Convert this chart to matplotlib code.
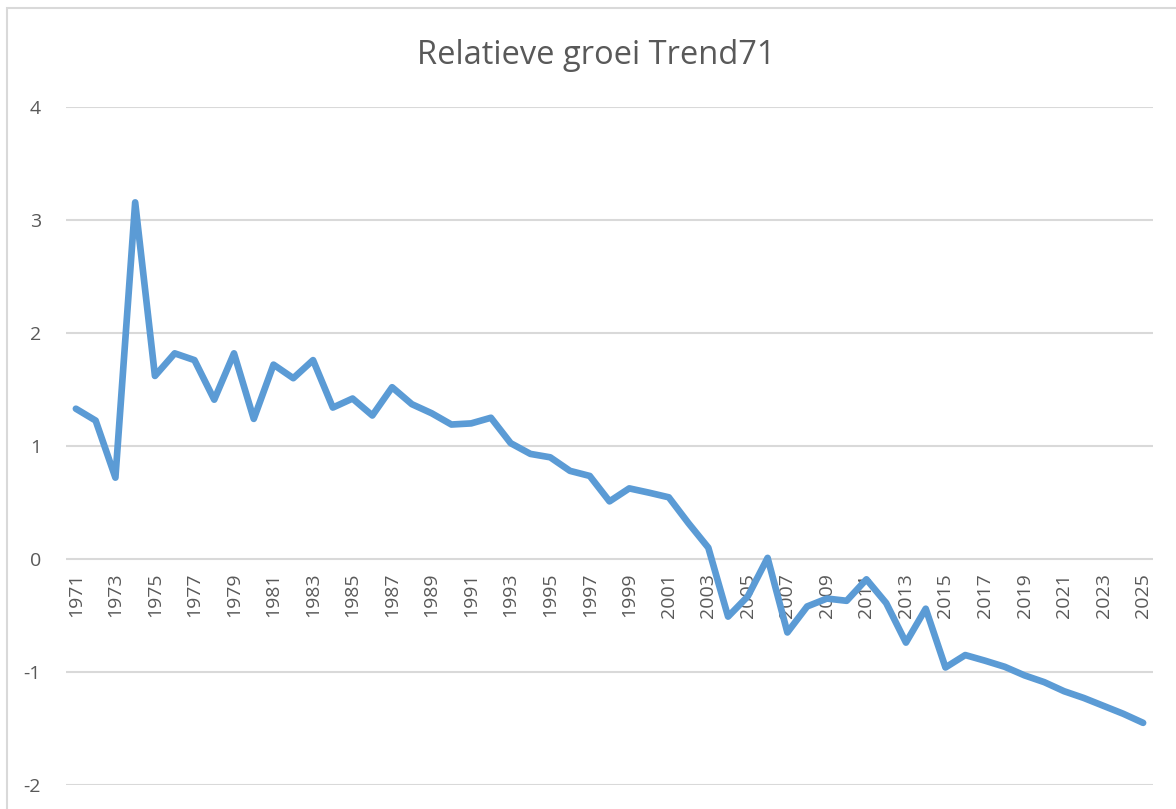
import matplotlib
matplotlib.use("Agg")
import matplotlib.pyplot as plt
from matplotlib.patches import Rectangle

years = list(range(1971, 2026))
values = [1.33, 1.225, 0.72, 3.156, 1.62, 1.82, 1.76, 1.41, 1.82, 1.24,
          1.72, 1.60, 1.76, 1.34, 1.42, 1.27, 1.52, 1.37, 1.29, 1.19,
          1.20, 1.25, 1.025, 0.93, 0.90, 0.78, 0.735, 0.51, 0.625, 0.587,
          0.546, 0.316, 0.10, -0.51, -0.33, 0.01, -0.65, -0.42, -0.35, -0.37,
          -0.18, -0.39, -0.74, -0.44, -0.96, -0.85, -0.90, -0.954, -1.03, -1.09,
          -1.17, -1.23, -1.30, -1.37, -1.45]
xtick_labels = [str(y) for y in range(1971, 2026, 2)]
yticks = [-2, -1, 0, 1, 2, 3, 4]
title = "Relatieve groei Trend71"

plt.rcParams['font.family'] = ['Open Sans', 'DejaVu Sans']

W, H = 1176, 809
fig = plt.figure(figsize=(W / 100, H / 100), dpi=100)
fig.patch.set_facecolor('white')

# chart border (top and left visible)
fig.add_artist(Rectangle((7 / W, -0.1), 1.2, (809 - 8) / H + 0.1,
                         transform=fig.transFigure, fill=False,
                         edgecolor='#d9d9d9', linewidth=1.5))

left, right = 66, 1153
top, bottom = 107, 785
ax = fig.add_axes([left / W, (H - bottom) / H, (right - left) / W, (bottom - top) / H])
ax.set_facecolor('none')
ax.spines['bottom'].set_position(('data', 0))
for s in ax.spines.values():
    s.set_visible(False)

ax.plot(years, values, color='#5B9BD5', linewidth=4.8,
        solid_capstyle='round', solid_joinstyle='round', zorder=3)

ax.set_xlim(1970.5, 2025.5)
ax.set_ylim(-2, 4)
ax.set_yticks(yticks)
ax.set_yticklabels([str(v) for v in yticks])
ax.grid(axis='y', color='#d9d9d9', linewidth=1.5)
ax.set_axisbelow(True)

ax.set_xticks(list(range(1971, 2026, 2)))
ax.set_xticklabels(xtick_labels)
ax.tick_params(axis='x', length=0, pad=10, labelsize=14, labelcolor='#595959',
               labelrotation=90)
ax.tick_params(axis='y', length=0, pad=18, labelsize=14, labelcolor='#595959')
for lbl in ax.get_xticklabels():
    lbl.set_va('top')
    lbl.set_ha('center')

fig.text(596 / W, 1 - 55 / H, title, ha='center', va='center',
         fontsize=23.5, color='#595959')

fig.savefig('out.png', dpi=100)
